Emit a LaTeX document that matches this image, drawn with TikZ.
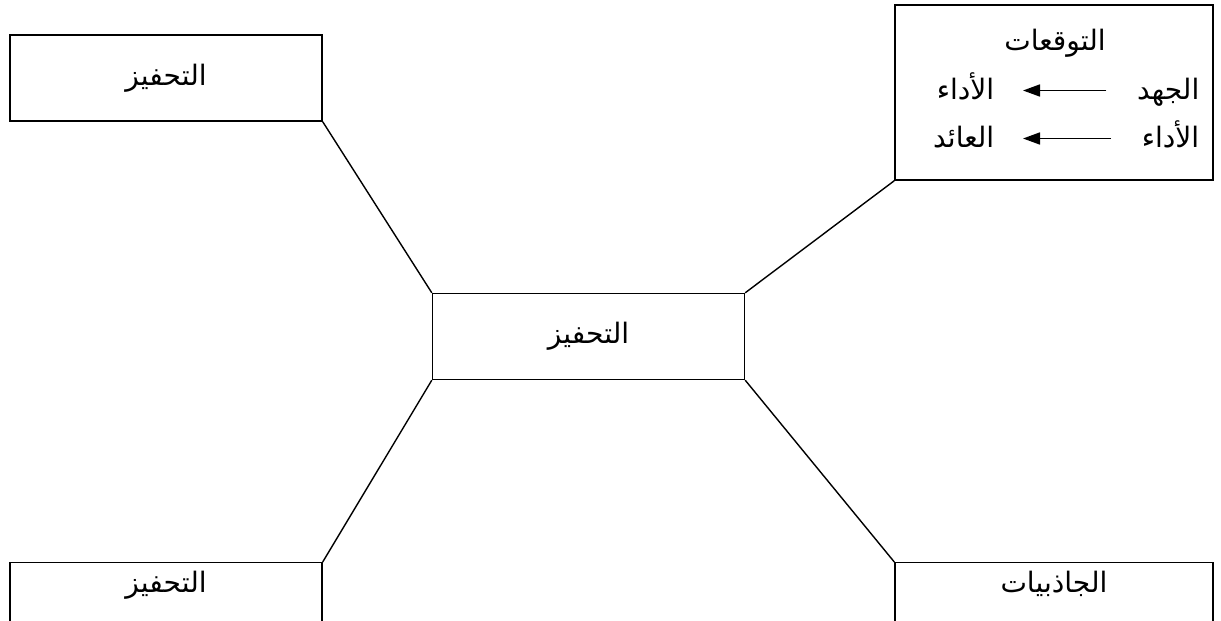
\documentclass[tikz,border=0pt]{standalone}
\usepackage{fontspec}
\newfontfamily\arabicfont[Script=Arabic]{DejaVu Sans}
\TeXXeTstate=1
\usetikzlibrary{arrows.meta}
\newcommand{\artext}[1]{\beginR #1\endR}

\begin{document}
\begin{tikzpicture}[box/.style={draw, line width=0.8pt, minimum width=6.24cm, minimum height=1.72cm, font=\arabicfont\fontsize{16}{18}\selectfont}, word/.style={inner sep=0pt, font=\arabicfont\fontsize{16}{18}\selectfont}, >={Triangle[length=0.34cm, width=0.24cm]}, line width=0.8pt]
        \useasboundingbox (0,0) rectangle (24.42,12.4);
        \clip (0,0) rectangle (24.42,12.4);
        \node[box] (tl) at (3.32, 10.84) {\artext{التحفيز}};
        \node[box] (mid) at (11.77, 5.67) {\artext{التحفيز}};
        \node[box, minimum width=6.36cm, minimum height=3.5cm] (tr) at (21.08, 10.55) {};
        \node[box, anchor=north, text height=0.34cm, text depth=1.2cm, inner ysep=0.26cm] (bl) at (3.32, 1.16) {\artext{التحفيز}};
        \node[box, anchor=north, minimum width=6.36cm, text height=0.34cm, text depth=1.2cm, inner ysep=0.26cm] (br) at (21.08, 1.16) {\artext{الجاذبيات}};
        \draw (tl.south east) -- (mid.north west);
        \draw (tr.south west) -- (mid.north east);
        \draw (mid.south west) -- (bl.north east);
        \draw (mid.south east) -- (br.north west);
        % expectations box
        \node[word, anchor=base] (exp) at (21.1, 11.4) {\artext{التوقعات}};
        \node[word, anchor=base east] (eff) at (24.0, 10.42) {\artext{الجهد}};
        \node[word, anchor=base east] (perf1) at (19.9, 10.42) {\artext{الأداء}};
        \node[word, anchor=base east] (perf2) at (24.0, 9.46) {\artext{الأداء}};
        \node[word, anchor=base east] (ret) at (19.9, 9.46) {\artext{العائد}};
        \draw[->, line width=1pt, shorten <=0.6cm, shorten >=0.56cm] ([yshift=0.17cm]eff.base west) -- ([yshift=0.17cm]perf1.base east);
        \draw[->, line width=1pt, shorten <=0.6cm, shorten >=0.56cm] ([yshift=0.17cm]perf2.base west) -- ([yshift=0.17cm]ret.base east);
    \end{tikzpicture}
\end{document}
